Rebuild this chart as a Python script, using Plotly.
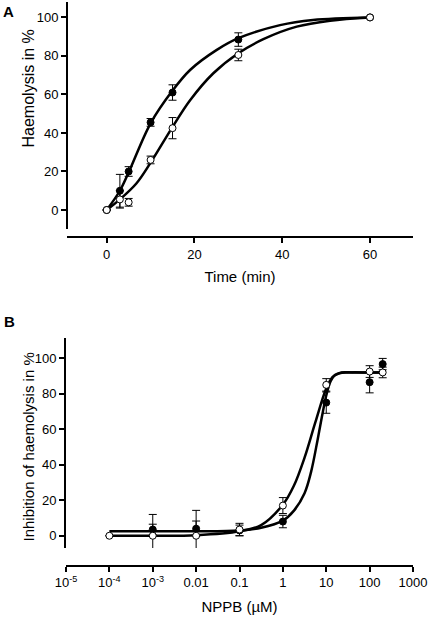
import plotly.graph_objects as go

# ---------------- Panel A data ----------------
time_min = [0, 3, 5, 10, 15, 30, 60]
filled_a = [0, 10, 20, 45.5, 61, 88.5, 100]
filled_a_err = [0, 8.5, 2.5, 2, 4, 3.5, 0]
open_a = [0, 5.5, 4, 26, 42.5, 80.5, 100]
open_a_err = [0, 4.5, 2, 2, 5.5, 3, 0]

# fitted curves
curve_a_filled_t = [0, 3, 5, 10, 15, 19, 25, 30, 39.5, 47, 60]
curve_a_filled_v = [0, 10, 19.5, 45, 62, 72.7, 83, 89.2, 96, 98.7, 100]
curve_a_open_t = [0, 3, 6.8, 9.9, 14.8, 19, 24.3, 30, 35.7, 43.3, 50.9, 60]
curve_a_open_v = [0, 5.5, 13.9, 24.2, 42.4, 57, 71, 81.4, 88.7, 95.2, 98.3, 100]

# ---------------- Panel B data ----------------
nppb_filled = [1e-3, 1e-2, 1e-1, 1, 10, 100, 200]
filled_b = [3.5, 4, 3, 8, 75, 86.5, 96.7]
filled_b_err = [3, 4.3, 3, 3.5, 6, 6, 3.2]
nppb_open = [1e-4, 1e-3, 1e-2, 1e-1, 1, 10, 100, 200]
open_b = [0, 0, 0, 3.5, 17, 85, 92.5, 92]
open_b_err = [0, 12, 14.3, 3.5, 4.5, 3.5, 3.3, 3]

curve_b_filled_x = [1e-4, 1e-3, 1e-2, 1e-1, 0.316, 1, 1.78, 3.16, 4.47, 6.31, 7.94, 10, 12.6, 15.8, 22.4, 40, 100, 200]
curve_b_filled_v = [2.5, 2.5, 2.5, 3, 4.5, 8.5, 14, 24, 36, 54, 67, 79, 87, 90.5, 92, 92, 92, 92]
curve_b_open_x = [1e-4, 1e-3, 1e-2, 1e-1, 0.316, 1, 1.78, 3.16, 5.62, 10, 14.1, 20, 31.6, 100, 200]
curve_b_open_v = [0, 0, 0.3, 2.5, 6, 17.5, 28, 44, 64, 83, 89.5, 91.5, 92, 92, 92]

b_tickvals = [1e-5, 1e-4, 1e-3, 1e-2, 1e-1, 1, 10, 100, 1000]
b_ticktext = ["10<sup>-5</sup>", "10<sup>-4</sup>", "10<sup>-3</sup>", "0.01", "0.1", "1", "10", "100", "1000"]

FONT = "Liberation Sans, Arial, sans-serif"
W, H = 434, 617

fig = go.Figure()

curve_style = dict(color="black", width=2.5, shape="spline", smoothing=1.0)
err_style = dict(type="data", symmetric=True, color="black", thickness=1, width=4)

# Panel A
fig.add_trace(go.Scatter(x=curve_a_filled_t, y=curve_a_filled_v, mode="lines",
                         line=curve_style, xaxis="x", yaxis="y", hoverinfo="skip"))
fig.add_trace(go.Scatter(x=curve_a_open_t, y=curve_a_open_v, mode="lines",
                         line=curve_style, xaxis="x", yaxis="y", hoverinfo="skip"))
fig.add_trace(go.Scatter(x=time_min, y=filled_a, mode="markers",
                         marker=dict(size=7, color="black", line=dict(color="black", width=1)),
                         error_y=dict(array=filled_a_err, **err_style), xaxis="x", yaxis="y"))
fig.add_trace(go.Scatter(x=time_min, y=open_a, mode="markers",
                         marker=dict(size=7, color="white", line=dict(color="black", width=1)),
                         error_y=dict(array=open_a_err, **err_style), xaxis="x", yaxis="y"))

# Panel B
fig.add_trace(go.Scatter(x=curve_b_filled_x, y=curve_b_filled_v, mode="lines",
                         line=curve_style, xaxis="x2", yaxis="y2", hoverinfo="skip"))
fig.add_trace(go.Scatter(x=curve_b_open_x, y=curve_b_open_v, mode="lines",
                         line=curve_style, xaxis="x2", yaxis="y2", hoverinfo="skip"))
fig.add_trace(go.Scatter(x=nppb_filled, y=filled_b, mode="markers",
                         marker=dict(size=7, color="black", line=dict(color="black", width=1)),
                         error_y=dict(array=filled_b_err, **err_style), xaxis="x2", yaxis="y2"))
fig.add_trace(go.Scatter(x=nppb_open, y=open_b, mode="markers",
                         marker=dict(size=7, color="white", line=dict(color="black", width=1)),
                         error_y=dict(array=open_b_err, **err_style), xaxis="x2", yaxis="y2"))

axis_common = dict(showline=True, linecolor="black", linewidth=2, ticks="outside",
                   ticklen=5, tickwidth=2, tickcolor="black", showgrid=False, zeroline=False,
                   automargin=False,
                   tickfont=dict(family=FONT, size=13, color="black"))

def px_x(p):
    return p / W

def px_y(p):
    return (H - p) / H

title_font = dict(family=FONT, size=15, color="black")

ax_x0, ax_x1 = px_x(67), px_x(413)
fig.update_layout(
    template="none",
    xaxis=dict(domain=[ax_x0, ax_x1], range=[-9.05, 69.8], anchor="free", position=px_y(237),
               tickvals=[0, 20, 40, 60],
               title=dict(text="Time (min)", font=title_font, standoff=10),
               **axis_common),
    yaxis=dict(domain=[px_y(229), px_y(2)], range=[-9.86, 108.0], anchor="free", position=ax_x0,
               tickvals=[0, 20, 40, 60, 80, 100],
               **axis_common),
    xaxis2=dict(domain=[px_x(66), ax_x1], type="log", range=[-5, 3], anchor="free", position=px_y(565.7),
                tickvals=b_tickvals, ticktext=b_ticktext,
                title=dict(text="NPPB (µM)", font=title_font, standoff=11),
                **axis_common),
    yaxis2=dict(domain=[px_y(548), px_y(338)], range=[-6.9, 111.4], anchor="free", position=px_x(65),
                tickvals=[0, 20, 40, 60, 80, 100],
                **axis_common),
)

fig.update_layout(
    width=W, height=H, margin=dict(l=0, r=0, t=0, b=0, pad=0),
    paper_bgcolor="white", plot_bgcolor="white", showlegend=False,
    font=dict(family=FONT, size=13, color="black"),
    annotations=[
        dict(text="<b>A</b>", x=px_x(1), y=px_y(1), xref="paper", yref="paper",
             xanchor="left", yanchor="top", showarrow=False, font=dict(family=FONT, size=15, color="black")),
        dict(text="<b>B</b>", x=px_x(2), y=px_y(311), xref="paper", yref="paper",
             xanchor="left", yanchor="top", showarrow=False, font=dict(family=FONT, size=15, color="black")),
        dict(text="Haemolysis in %", x=px_x(28.5), y=px_y(89), xref="paper", yref="paper",
             xanchor="center", yanchor="middle", textangle=-90, showarrow=False,
             font=dict(family=FONT, size=16, color="black")),
        dict(text="Inhibition of haemolysis in %", x=px_x(27.5), y=px_y(447), xref="paper", yref="paper",
             xanchor="center", yanchor="middle", textangle=-90, showarrow=False,
             font=dict(family=FONT, size=15, color="black")),
    ],
)

fig.write_html("out.html", config={"displayModeBar": False},
               post_script="document.body.style.margin='0';")
